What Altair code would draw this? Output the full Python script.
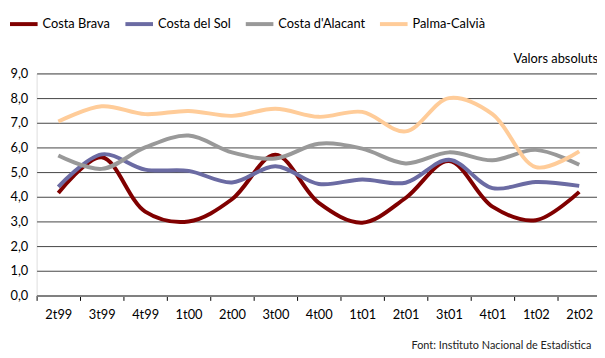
import altair as alt
import pandas as pd

quarters = ["2t99", "3t99", "4t99", "1t00", "2t00", "3t00", "4t00",
            "1t01", "2t01", "3t01", "4t01", "1t02", "2t02"]
costa_brava = [4.15, 5.6, 3.4, 3.0, 3.9, 5.7, 3.75, 2.95, 3.95, 5.45, 3.6, 3.05, 4.2]
costa_del_sol = [4.4, 5.72, 5.1, 5.05, 4.58, 5.24, 4.52, 4.7, 4.57, 5.5, 4.35, 4.6, 4.44]
costa_alacant = [5.67, 5.13, 6.0, 6.48, 5.8, 5.55, 6.15, 5.95, 5.35, 5.8, 5.48, 5.9, 5.3]
palma_calvia = [7.05, 7.67, 7.35, 7.48, 7.28, 7.57, 7.24, 7.44, 6.65, 8.0, 7.35, 5.2, 5.84]

series_names = ["Costa Brava", "Costa del Sol", "Costa d'Alacant", "Palma-Calvià"]
series_values = [costa_brava, costa_del_sol, costa_alacant, palma_calvia]
series_colors = ["#800000", "#6B6BA3", "#999999", "#FFCC99"]

rows = []
for name, vals in zip(series_names, series_values):
    for i, (q, v) in enumerate(zip(quarters, vals)):
        rows.append({"quarter": q, "value": v, "series": name, "order": i})
df = pd.DataFrame(rows)

FONT = "Lato"
W, H = 568, 225

lines = alt.Chart(df).mark_line(strokeWidth=4, interpolate="catmull-rom").encode(
    x=alt.X("quarter:O", sort=quarters, title=None,
            scale=alt.Scale(type="band", paddingInner=0, paddingOuter=0, range=[0, 572]),
            axis=alt.Axis(labelAngle=0, tickBand="extent", tickSize=5, tickColor="#000000",
                          domainColor="#808080", domainWidth=2, labelFontSize=13,
                          labelColor="#000000", labelFont=FONT, labelPadding=8, grid=False)),
    y=alt.Y("value:Q", title=None,
            scale=alt.Scale(domain=[0, 9], nice=False),
            axis=alt.Axis(values=[0, 1, 2, 3, 4, 5, 6, 7, 8, 9], domain=False, ticks=False,
                          labelExpr="replace(format(datum.value, '.1f'), '.', ',')",
                          labelFontSize=13, labelColor="#000000", labelFont=FONT,
                          labelPadding=9, gridColor="#444444", gridWidth=1)),
    color=alt.Color("series:N", sort=series_names,
                    scale=alt.Scale(domain=series_names, range=series_colors),
                    legend=alt.Legend(title=None, orient="none", direction="horizontal",
                                      legendX=-29, legendY=-66, symbolType="stroke",
                                      symbolSize=784, symbolStrokeWidth=4,
                                      labelFontSize=13, labelFont=FONT, labelColor="#000000",
                                      labelOffset=3, columnPadding=7)),
    detail="series:N",
    order="order:Q",
)

label_df = pd.DataFrame({"t": ["Valors absoluts"]})
unit_text = alt.Chart(label_df).mark_text(align="right", baseline="middle", fontSize=13,
                                          font=FONT, color="#000000").encode(
    text="t:N", x=alt.value(569), y=alt.value(-15))

src_df = pd.DataFrame({"t": ["Font: Instituto Nacional de Estadística"]})
src_text = alt.Chart(src_df).mark_text(align="left", baseline="middle", fontSize=11,
                                       font=FONT, color="#222222").encode(
    text="t:N", x=alt.value(380), y=alt.value(276))

chart = alt.layer(lines, unit_text, src_text).properties(
    width=W, height=H,
    autosize=alt.AutoSizeParams(type="none"),
    padding={"left": 29, "top": 64, "right": 0, "bottom": 53},
).configure_view(stroke=None).configure(font=FONT)

chart.save("out.html", embed_options={"renderer": "svg", "actions": False})
